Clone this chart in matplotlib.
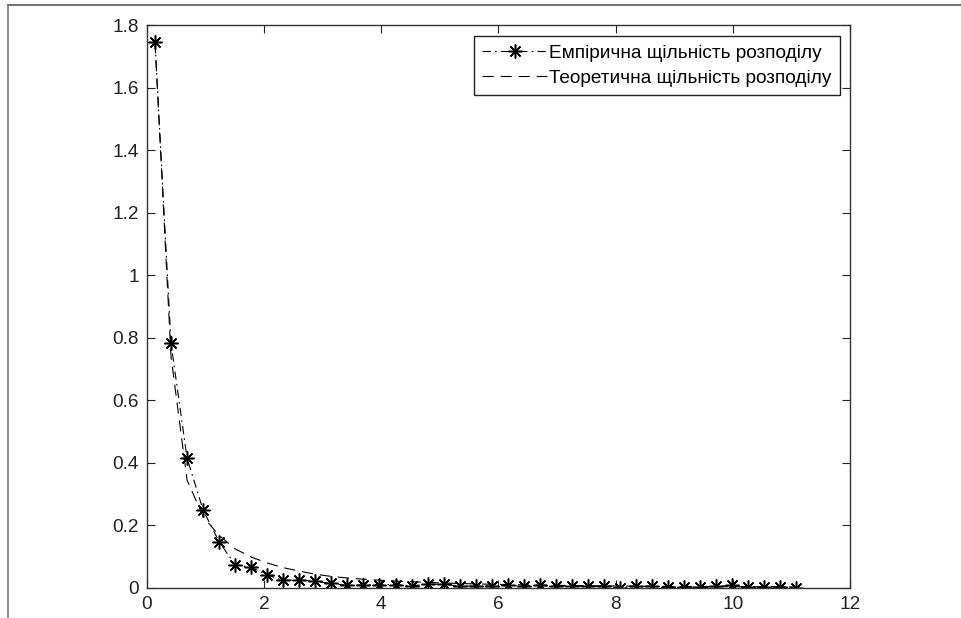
import matplotlib
matplotlib.use("Agg")
import matplotlib.pyplot as plt
from matplotlib.lines import Line2D

plt.rcParams['font.family'] = ['Liberation Sans', 'DejaVu Sans']
plt.rcParams['lines.scale_dashes'] = False

# Bin centres (x) shared by both series
x_vals = [0.137, 0.410, 0.684, 0.958, 1.231, 1.505, 1.779, 2.052, 2.326, 2.600,
          2.873, 3.147, 3.421, 3.694, 3.968, 4.242, 4.515, 4.789, 5.063, 5.336,
          5.610, 5.884, 6.157, 6.431, 6.705, 6.978, 7.252, 7.526, 7.799, 8.073,
          8.347, 8.620, 8.894, 9.168, 9.441, 9.715, 9.989, 10.262, 10.536, 10.810,
          11.083]

empirical = [1.745, 0.782, 0.415, 0.249, 0.148, 0.074, 0.066, 0.042, 0.024, 0.026,
             0.021, 0.015, 0.008, 0.010, 0.011, 0.011, 0.007, 0.012, 0.012, 0.006,
             0.006, 0.006, 0.008, 0.006, 0.008, 0.006, 0.007, 0.005, 0.005, 0.001,
             0.005, 0.005, 0.002, 0.004, 0.002, 0.005, 0.008, 0.002, 0.004, 0.004,
             0.001]

theoretical = [1.745, 0.740, 0.345, 0.228, 0.168, 0.125, 0.099, 0.080, 0.065, 0.054,
               0.044, 0.037, 0.032, 0.028, 0.025, 0.022, 0.020, 0.018, 0.016, 0.0145,
               0.013, 0.012, 0.011, 0.010, 0.0093, 0.0086, 0.0080, 0.0074, 0.0069, 0.0064,
               0.0060, 0.0056, 0.0053, 0.0050, 0.0047, 0.0044, 0.0042, 0.0040, 0.0038, 0.0036,
               0.0034]

label_emp = "Емпірична щільність розподілу"
label_theo = "Теоретична щільність розподілу"

x_ticks = [0, 2, 4, 6, 8, 10, 12]
y_ticks = [0, 0.2, 0.4, 0.6, 0.8, 1, 1.2, 1.4, 1.6, 1.8]
y_ticklabels = ["0", "0.2", "0.4", "0.6", "0.8", "1", "1.2", "1.4", "1.6", "1.8"]

fig = plt.figure(figsize=(9.61, 6.18), dpi=100)
W, H = 961, 618
ax = fig.add_axes([147 / W, 1 - 588 / H, (850 - 147) / W, (588 - 25) / H])

ax.plot(x_vals, empirical, color='black', linewidth=0.8,
        dashes=(6, 3, 1.2, 3), marker=(8, 2, 0), markersize=10,
        markeredgewidth=1.1, label=label_emp)
ax.plot(x_vals, theoretical, color='black', linewidth=0.8,
        dashes=(8, 5), label=label_theo)

ax.set_xlim(0, 12)
ax.set_ylim(0, 1.8)
ax.set_xticks(x_ticks)
ax.set_xticklabels([str(t) for t in x_ticks])
ax.set_yticks(y_ticks)
ax.set_yticklabels(y_ticklabels)
ax.tick_params(direction='in', length=5.5, width=0.8, top=True, right=True,
               labelsize=13.7, pad=6, colors='#222222')
for s in ax.spines.values():
    s.set_linewidth(1.0)
    s.set_color('#333333')

leg = ax.legend(loc='upper right', bbox_to_anchor=((840 - 147) / 703, (588 - 36) / 563),
                borderaxespad=0, fancybox=False, framealpha=1, edgecolor='#222222',
                fontsize=13.7, handlelength=3.4, handletextpad=0.1, borderpad=0.45,
                labelspacing=0.4)
leg.get_frame().set_linewidth(1.0)

# Figure border lines (top and left)
fig.add_artist(Line2D([8 / W, 1], [1 - 5 / H, 1 - 5 / H], color='#555555',
                      linewidth=1.2, transform=fig.transFigure))
fig.add_artist(Line2D([8 / W, 8 / W], [0, 1 - 5 / H], color='#777777',
                      linewidth=1.2, transform=fig.transFigure))

fig.savefig("out.png", dpi=100)
